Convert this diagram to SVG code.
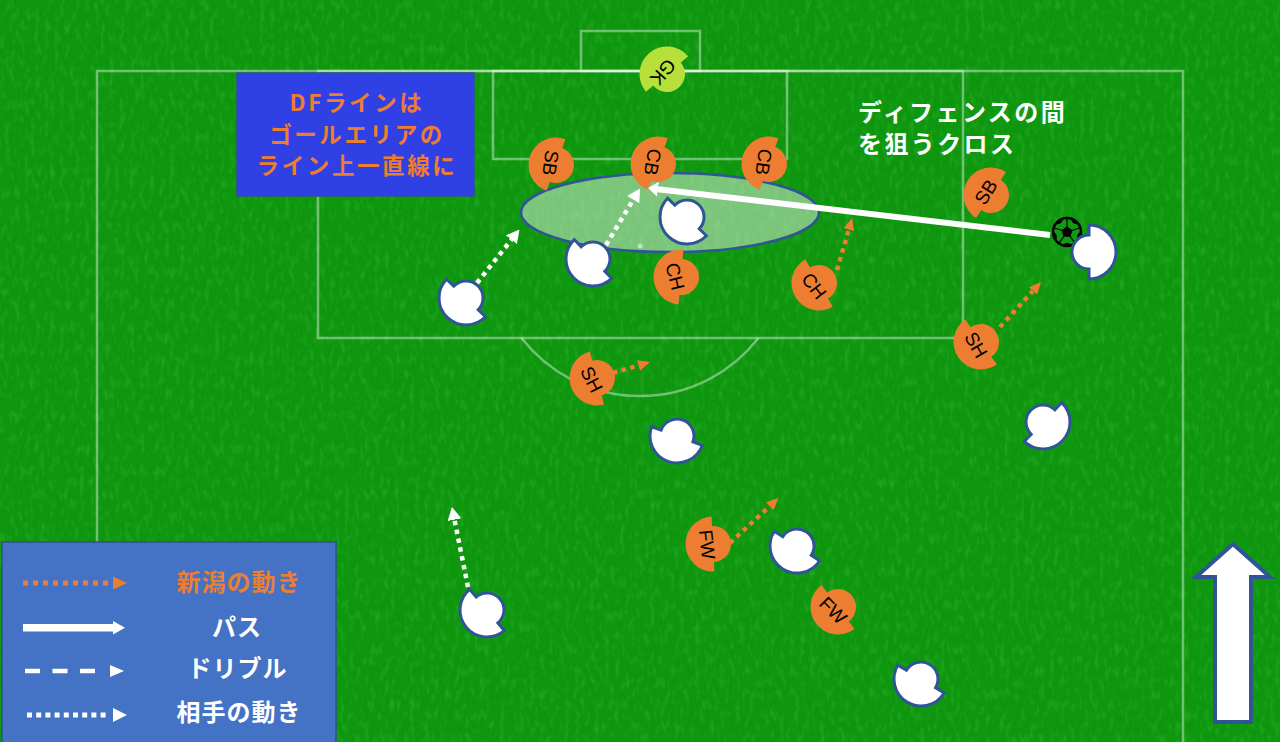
<svg xmlns="http://www.w3.org/2000/svg" xmlns:xlink="http://www.w3.org/1999/xlink" width="1280" height="742" viewBox="0 0 1280 742">
<defs>
<style>
.fl{fill:none;stroke:#ffffff;stroke-opacity:0.4;stroke-width:2.5}
.wp{fill:#ffffff;stroke:#2f5597;stroke-width:3;stroke-linejoin:miter}
.op{fill:#ed7d31}
.gk{fill:#b8e03a}
.lb{font-family:"Liberation Sans",Arial,sans-serif;font-size:19px;fill:#000000;text-anchor:middle;dominant-baseline:central}
.jp{font-family:"Noto Sans CJK JP","Noto Sans CJK SC",sans-serif;font-weight:bold;font-size:24px}
.nb{font-family:"Noto Sans CJK JP","Noto Sans CJK SC",sans-serif;font-weight:bold;font-size:22.5px;letter-spacing:2.6px}
.wd{fill:none;stroke:#ffffff;stroke-width:4.5;stroke-dasharray:4.5 4.5}
.od{fill:none;stroke:#ed7d31;stroke-width:4.5;stroke-dasharray:4.5 4.5}
</style>
<filter id="grass" x="0" y="0" width="100%" height="100%">
<feTurbulence type="fractalNoise" baseFrequency="0.2 0.09" numOctaves="2" seed="4"/>
<feColorMatrix type="matrix" values="0 0 0 0 0.1  0 0 0 0 0.7  0 0 0 0 0.1  0 0 0 1.6 -0.75"/>
</filter>
<path id="pw" d="M0,-27 A27,27 0 0 0 0,27 L0,17 A17,17 0 0 0 0,-17 Z"/>
<path id="po" d="M0,-27.5 A27.5,27.5 0 0 0 0,27.5 L0,18 A18,18 0 0 0 0,-18 Z"/>
<marker id="ahw" viewBox="0 0 13 14" markerUnits="userSpaceOnUse" markerWidth="13" markerHeight="14" refX="0" refY="7" orient="auto"><path d="M0,0 L13,7 L0,14 Z" fill="#ffffff"/></marker>
<marker id="aho" viewBox="0 0 12 11" markerUnits="userSpaceOnUse" markerWidth="12" markerHeight="11" refX="0" refY="5.5" orient="auto"><path d="M0,0 L12,5.5 L0,11 Z" fill="#ed7d31"/></marker>
<marker id="ahp" viewBox="0 0 10 15" markerUnits="userSpaceOnUse" markerWidth="10" markerHeight="15" refX="0" refY="7.5" orient="auto"><path d="M0,0 L10,7.5 L0,15 Z" fill="#ffffff"/></marker>
<clipPath id="ballclip"><circle cx="0" cy="0" r="14"/></clipPath>
</defs>

<!-- grass -->
<rect x="0" y="0" width="1280" height="742" fill="#0f960f"/>
<rect x="0" y="0" width="1280" height="742" filter="url(#grass)" opacity="0.35"/>

<!-- pitch markings -->
<g id="pitch">
<rect x="581" y="31" width="119" height="40" fill="#ffffff" fill-opacity="0.22" class="fl"/>
<path class="fl" d="M97,742 V71 H1183 V742"/>
<rect class="fl" x="318" y="71" width="645" height="267"/>
<rect class="fl" x="493" y="71" width="294" height="88"/>
<path class="fl" d="M521.5,338 A150,150 0 0 0 758.5,338"/>
<circle cx="640" cy="246" r="2.5" fill="#ffffff" fill-opacity="0.5"/>
</g>

<!-- target zone -->
<g id="zone">
<ellipse cx="670" cy="212.5" rx="149" ry="39.5" fill="#ffffff" fill-opacity="0.45" stroke="#2f5597" stroke-width="2.5"/>
</g>

<!-- ball -->
<g id="ball" transform="translate(1067,232)">
<circle r="14" fill="#139a13"/>
<g clip-path="url(#ballclip)" fill="#000000" stroke="#000000" stroke-width="1.2">
<polygon points="0,-5 4.76,-1.55 2.94,4.05 -2.94,4.05 -4.76,-1.55"/>
<line x1="0" y1="-5" x2="0" y2="-14"/>
<line x1="4.76" y1="-1.55" x2="13.3" y2="-4.3"/>
<line x1="2.94" y1="4.05" x2="8.2" y2="11.3"/>
<line x1="-2.94" y1="4.05" x2="-8.2" y2="11.3"/>
<line x1="-4.76" y1="-1.55" x2="-13.3" y2="-4.3"/>
<circle cx="0" cy="16" r="4.5"/>
<circle cx="15.2" cy="4.9" r="4.5"/>
<circle cx="9.4" cy="-12.9" r="4.5"/>
<circle cx="-9.4" cy="-12.9" r="4.5"/>
<circle cx="-15.2" cy="4.9" r="4.5"/>
</g>
<circle r="14" fill="none" stroke="#000000" stroke-width="2.5"/>
</g>

<!-- opponents (white) -->
<g id="opp1"><use xlink:href="#pw" class="wp" transform="translate(466,298) rotate(-46)"/></g>
<g id="opp2"><use xlink:href="#pw" class="wp" transform="translate(593,259) rotate(-44)"/></g>
<g id="opp3"><use xlink:href="#pw" class="wp" transform="translate(687,217) rotate(-46)"/></g>
<g id="opp4"><use xlink:href="#pw" class="wp" transform="translate(1089,252) rotate(180)"/></g>
<g id="opp5"><use xlink:href="#pw" class="wp" transform="translate(1043,422) rotate(-136)"/></g>
<g id="opp6"><use xlink:href="#pw" class="wp" transform="translate(677,436) rotate(-70)"/></g>
<g id="opp7"><use xlink:href="#pw" class="wp" transform="translate(797,546) rotate(-57)"/></g>
<g id="opp8"><use xlink:href="#pw" class="wp" transform="translate(487,610) rotate(-40)"/></g>
<g id="opp9"><use xlink:href="#pw" class="wp" transform="translate(921,679) rotate(-59)"/></g>

<!-- Niigata (orange) -->
<g id="gk"><use xlink:href="#po" class="gk" transform="translate(667,74) rotate(50)"/><text class="lb" x="663" y="72" transform="rotate(132 663 72)">GK</text></g>
<g id="sb-left"><use xlink:href="#po" class="op" transform="translate(556,165) rotate(20)"/><text class="lb" x="550.5" y="163" transform="rotate(98 550.5 163)">SB</text></g>
<g id="cb-left"><use xlink:href="#po" class="op" transform="translate(658,164) rotate(21)"/><text class="lb" x="652.5" y="162" transform="rotate(100 652.5 162)">CB</text></g>
<g id="cb-right"><use xlink:href="#po" class="op" transform="translate(769,164) rotate(20)"/><text class="lb" x="763.5" y="162" transform="rotate(98 763.5 162)">CB</text></g>
<g id="ch-left"><use xlink:href="#po" class="op" transform="translate(681,277) rotate(5)"/><text class="lb" x="675" y="276.5" transform="rotate(76 675 276.5)">CH</text></g>
<g id="ch-right"><use xlink:href="#po" class="op" transform="translate(819,283) rotate(-30)"/><text class="lb" x="814" y="286" transform="rotate(52 814 286)">CH</text></g>
<g id="sb-right"><use xlink:href="#po" class="op" transform="translate(991,195) rotate(33)"/><text class="lb" x="986" y="192" transform="rotate(-58 986 192)">SB</text></g>
<g id="sh-right"><use xlink:href="#po" class="op" transform="translate(981,342) rotate(-35)"/><text class="lb" x="976" y="345" transform="rotate(60 976 345)">SH</text></g>
<g id="sh-left"><use xlink:href="#po" class="op" transform="translate(597,378) rotate(-15)"/><text class="lb" x="591.5" y="379.5" transform="rotate(63 591.5 379.5)">SH</text></g>
<g id="fw-left"><use xlink:href="#po" class="op" transform="translate(713,544) rotate(-3)"/><text class="lb" x="707" y="544.5" transform="rotate(84 707 544.5)">FW</text></g>
<g id="fw-right"><use xlink:href="#po" class="op" transform="translate(838,607) rotate(-37)"/><text class="lb" x="833" y="610.5" transform="rotate(45 833 610.5)">FW</text></g>

<!-- connectors -->
<g id="connectors">
<line x1="1050" y1="235" x2="658" y2="189.2" stroke="#ffffff" stroke-width="6" marker-end="url(#ahp)"/>
<line class="wd" x1="477" y1="283" x2="511.4" y2="239.7" marker-end="url(#ahw)"/>
<line class="wd" x1="606" y1="245" x2="633.3" y2="199.6" marker-end="url(#ahw)"/>
<line class="wd" x1="468" y1="587" x2="454.5" y2="519.7" marker-end="url(#ahw)"/>
<line class="od" x1="837" y1="270" x2="848.8" y2="229.6" marker-end="url(#aho)"/>
<line class="od" x1="1000" y1="327" x2="1033" y2="290.9" marker-end="url(#aho)"/>
<line class="od" x1="613" y1="373" x2="638.5" y2="365.4" marker-end="url(#aho)"/>
<line class="od" x1="730" y1="543" x2="769.7" y2="506.2" marker-end="url(#aho)"/>
</g>

<!-- attack direction arrow -->
<g id="direction">
<polygon points="1233,544 1270,577 1251,577 1251,722 1215,722 1215,577 1196,577" fill="#ffffff" stroke="#2f5597" stroke-width="4" stroke-linejoin="miter"/>
</g>

<!-- note box -->
<g id="note-box">
<rect x="237" y="73" width="237" height="123" fill="#2f40e4" stroke="#2f528f" stroke-width="1.5"/>
<text class="nb" fill="#ed7d31" text-anchor="middle" x="357" y="111">DFラインは</text>
<text class="nb" fill="#ed7d31" text-anchor="middle" x="357" y="143">ゴールエリアの</text>
<text class="nb" fill="#ed7d31" text-anchor="middle" x="357" y="174">ライン上一直線に</text>
</g>

<!-- cross note -->
<g id="cross-note">
<text class="jp" fill="#ffffff" x="858" y="121" letter-spacing="2.4">ディフェンスの間</text>
<text class="jp" fill="#ffffff" x="858" y="153" letter-spacing="2.4">を狙うクロス</text>
</g>

<!-- legend -->
<g id="legend">
<rect x="2" y="542" width="334" height="202" fill="#4472c4" stroke="#2f528f" stroke-width="1.5"/>
<line x1="23" y1="583" x2="108" y2="583" stroke="#ed7d31" stroke-width="5" stroke-dasharray="5 5"/>
<polygon points="113,576.5 127,583 113,589.5" fill="#ed7d31"/>
<rect x="23" y="624" width="91" height="7.5" fill="#ffffff"/>
<polygon points="113,621 125,627.7 113,634.5" fill="#ffffff"/>
<line x1="25" y1="671" x2="97" y2="671" stroke="#ffffff" stroke-width="4.5" stroke-dasharray="15 12.5"/>
<polygon points="110,665 124,671 110,677" fill="#ffffff"/>
<line x1="27" y1="715" x2="108" y2="715" stroke="#ffffff" stroke-width="5" stroke-dasharray="5 4.2"/>
<polygon points="113,708 127,715 113,722" fill="#ffffff"/>
<text class="jp" fill="#ed7d31" text-anchor="middle" x="239" y="591" letter-spacing="1">新潟の動き</text>
<text class="jp" fill="#ffffff" text-anchor="middle" x="237" y="636" letter-spacing="1">パス</text>
<text class="jp" fill="#ffffff" text-anchor="middle" x="237.5" y="677" letter-spacing="1">ドリブル</text>
<text class="jp" fill="#ffffff" text-anchor="middle" x="239" y="721" letter-spacing="1">相手の動き</text>
</g>
</svg>
